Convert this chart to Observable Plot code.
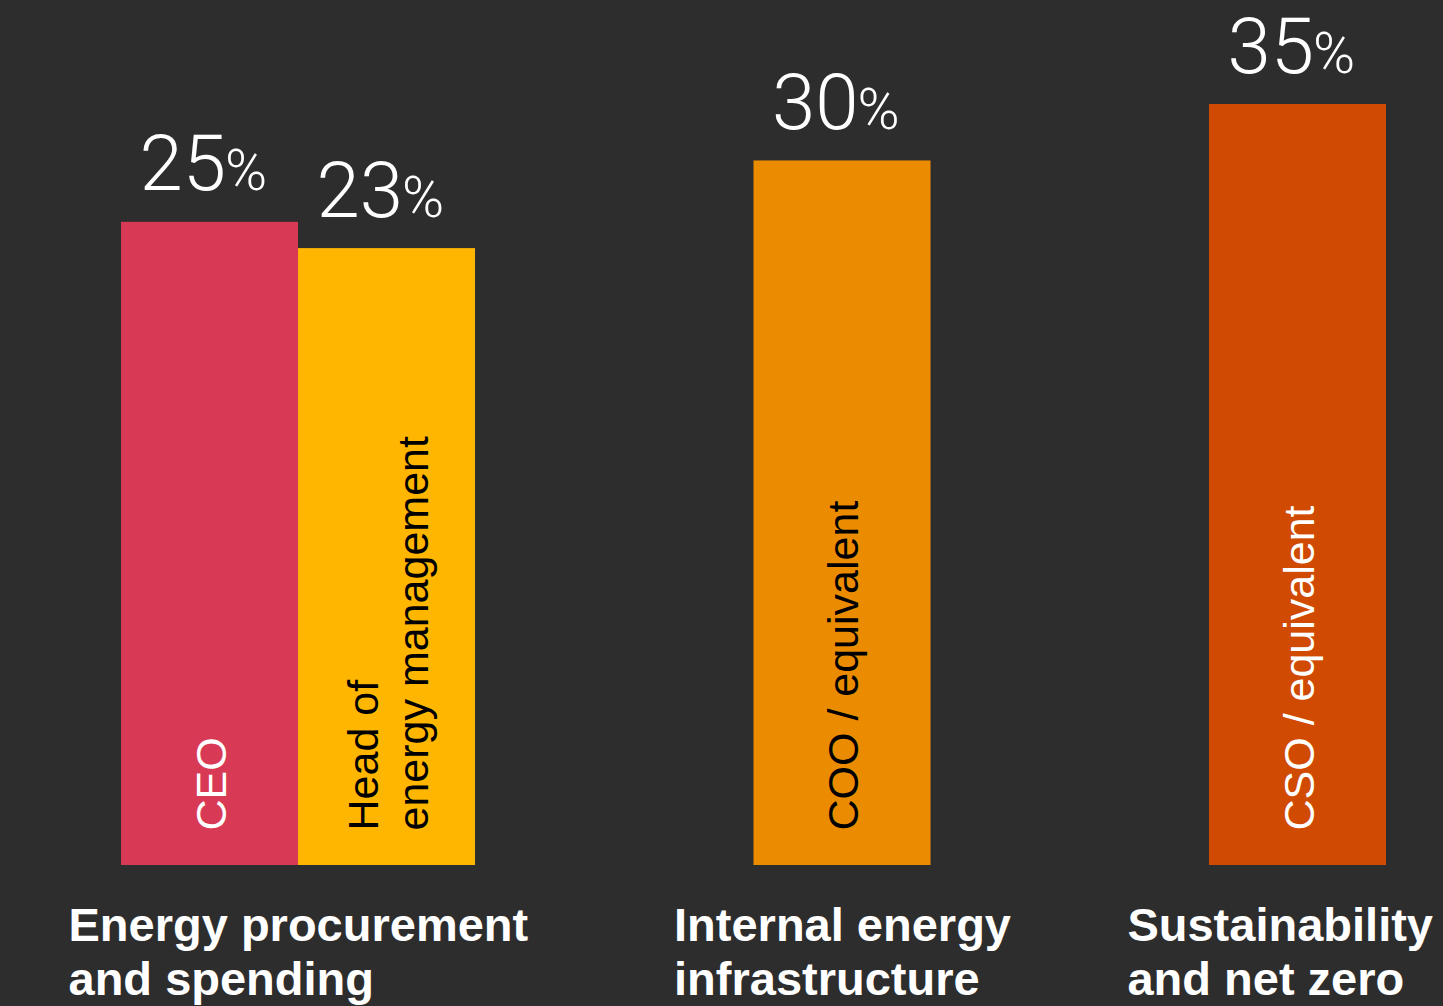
<!DOCTYPE html>
<html><head><meta charset="utf-8">
<script src="https://cdn.jsdelivr.net/npm/d3@7"></script>
<script src="https://cdn.jsdelivr.net/npm/@observablehq/plot@0.6"></script>
<style>
html,body{margin:0;padding:0;background:#2d2d2d;}
#chart{width:1443px;height:1006px;overflow:hidden;}
</style></head><body><div id="chart"></div>
<script>
// ---- data ----
const roles = ["CEO", "Head of\nenergy management", "COO / equivalent", "CSO / equivalent"];
const values = [25, 23, 30, 35];
const roleGroups = ["Energy procurement\nand spending", "Energy procurement\nand spending", "Internal energy\ninfrastructure", "Sustainability\nand net zero"];
const groups = ["Energy procurement\nand spending", "Internal energy\ninfrastructure", "Sustainability\nand net zero"];
const colors = ["#d83a56", "#ffb600", "#eb8c00", "#d04a02"];

// ---- layout ----
const W = 1443, H = 1006;
const GAP = 1.573; // space between groups, in bar widths
const data = roles.map((role, i) => {
  const g = groups.indexOf(roleGroups[i]);
  return {role, value: values[i], group: roleGroups[i], color: colors[i], pos: i + g * GAP};
});
const groupData = groups.map(g => {
  const b = data.filter(d => d.group === g);
  return {group: g, center: d3.mean(b, d => d.pos + 0.5)};
});
const xMax = roles.length + (groups.length - 1) * GAP;
const textOn = c => d3.lab(c).l > 60 ? "#000000" : "#ffffff";
const sans = "'Liberation Sans', Arial, Helvetica, sans-serif";
const light = "Roboto, 'Liberation Sans', sans-serif";

const chart = Plot.plot({
  width: W, height: H,
  marginLeft: 121, marginRight: 57, marginTop: 104, marginBottom: 141,
  style: {background: "#2d2d2d", overflow: "visible"},
  x: {domain: [0, xMax], axis: null},
  y: {type: "sqrt", domain: [0, 35], axis: null},
  color: {type: "identity"},
  marks: [
    Plot.rect(data, {x1: "pos", x2: d => d.pos + 1, y1: () => 0, y2: "value", fill: "color"}),
    Plot.text(data, {x: d => d.pos + 0.5, y: "value", text: d => String(d.value),
      textAnchor: "end", lineAnchor: "bottom", dx: 16, dy: -32,
      fontSize: 78, fontWeight: 300, fontFamily: light, fill: "#ffffff"}),
    Plot.text(data, {x: d => d.pos + 0.5, y: "value", text: () => "%",
      textAnchor: "start", lineAnchor: "bottom", dx: 15, dy: -32,
      fontSize: 57, fontWeight: 300, fontFamily: light, fill: "#ffffff"}),
    Plot.text(data, {x: d => d.pos + 0.5, y: () => 0, text: "role", rotate: -90,
      textAnchor: "start", lineAnchor: "middle", lineHeight: 1.16, dy: -35,
      fontSize: 43, fontFamily: sans, fill: d => textOn(d.color)}),
    Plot.text(groupData, {x: "center", y: () => 0, text: "group",
      textAnchor: "start", lineAnchor: "top", lineHeight: 1.15, dy: 37,
      fontSize: 47, fontWeight: "bold", fontFamily: sans, fill: "#ffffff"})
  ]
});
document.getElementById("chart").appendChild(chart);

// centre each left-aligned group label block under its bars, keeping it inside the frame
const textGroups = chart.querySelectorAll('g[aria-label="text"]');
const gl = textGroups[textGroups.length - 1];
gl.querySelectorAll("text").forEach(el => {
  const r = el.getBoundingClientRect();
  const cx = r.left; // anchor point (textAnchor start)
  const desired = Math.min(cx - r.width / 2, W - 10 - r.width);
  const shift = desired - r.left;
  el.setAttribute("transform", `translate(${shift},0) ` + (el.getAttribute("transform") || ""));
});
</script></body></html>
